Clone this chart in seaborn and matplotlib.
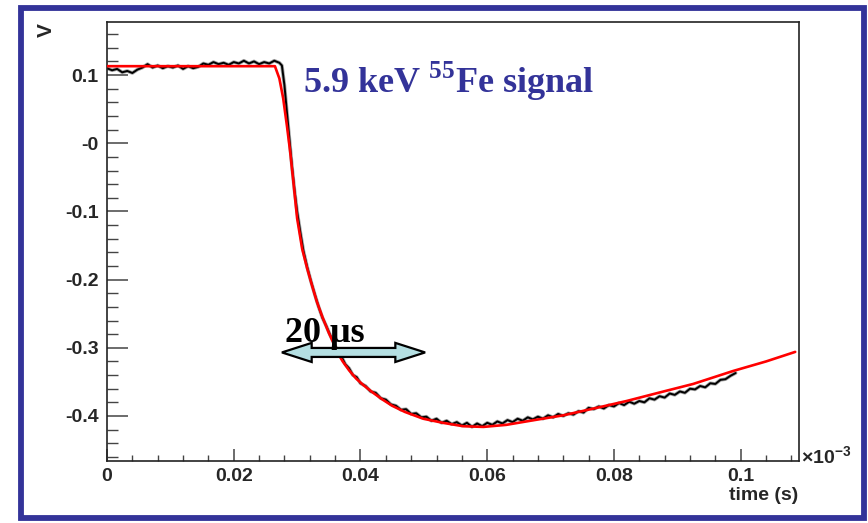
import matplotlib
matplotlib.use('Agg')
import matplotlib.pyplot as plt
import matplotlib.patches as mpatches
from matplotlib.ticker import MultipleLocator, FixedLocator, FixedFormatter
import seaborn as sns
import pandas as pd

sns.set_style('ticks')
plt.rcParams['font.family'] = ['Liberation Sans', 'DejaVu Sans']
plt.rcParams['mathtext.fontset'] = 'custom'
plt.rcParams['mathtext.rm'] = 'Liberation Serif:bold'
plt.rcParams['mathtext.bf'] = 'Liberation Serif:bold'
plt.rcParams['mathtext.sf'] = 'Liberation Sans:bold'

# -------------------------
# data (time in units of 1e-3 s, signal in V)
# -------------------------
fit_t = [0.0, 0.0265, 0.0272, 0.0278, 0.0284, 0.0289, 0.0294, 0.0300, 0.0308,
         0.0316, 0.0324, 0.0331, 0.0340, 0.0350, 0.0357, 0.0363, 0.0372, 0.0382,
         0.0393, 0.0405, 0.0420, 0.0435, 0.0450, 0.0470, 0.0499, 0.0530, 0.0562,
         0.0594, 0.0630, 0.0668, 0.0720, 0.0773, 0.0820, 0.0870, 0.0925, 0.0988,
         0.1040, 0.1086]
fit_v = [0.113, 0.113, 0.095, 0.066, 0.025, -0.012, -0.055, -0.110, -0.155,
         -0.184, -0.210, -0.232, -0.255, -0.278, -0.292, -0.306, -0.320, -0.333,
         -0.345, -0.355, -0.366, -0.376, -0.385, -0.394, -0.404, -0.410, -0.415,
         -0.416, -0.413, -0.407, -0.399, -0.388, -0.378, -0.366, -0.353, -0.334,
         -0.320, -0.306]

sig_t = [0.0, 0.0008, 0.0016, 0.0024, 0.0032, 0.0040, 0.0048, 0.0056, 0.0064,
         0.0072, 0.0080, 0.0088, 0.0096, 0.0104, 0.0112, 0.0120, 0.0128, 0.0136,
         0.0144, 0.0152, 0.0160, 0.0168, 0.0176, 0.0184, 0.0192, 0.0200, 0.0208,
         0.0216, 0.0224, 0.0232, 0.0240, 0.0248, 0.0256, 0.0264, 0.0272,
         0.0276, 0.0280, 0.0284, 0.0288, 0.0292, 0.0296, 0.0300, 0.0305, 0.0310,
         0.0316, 0.0322, 0.0328, 0.0334, 0.0340, 0.0346, 0.0352, 0.0358, 0.0364,
         0.0370, 0.0376, 0.0382, 0.0388, 0.0394, 0.0400, 0.0408, 0.0416, 0.0424,
         0.0432, 0.0440, 0.0448, 0.0456, 0.0464, 0.0472, 0.0480, 0.0488, 0.0496,
         0.0504, 0.0512, 0.0520, 0.0528, 0.0536, 0.0544, 0.0552, 0.0560, 0.0568,
         0.0576, 0.0584, 0.0592, 0.0600, 0.0608, 0.0616, 0.0624, 0.0632, 0.0640,
         0.0648, 0.0656, 0.0664, 0.0672, 0.0680, 0.0688, 0.0696, 0.0704, 0.0712,
         0.0720, 0.0728, 0.0736, 0.0744, 0.0752, 0.0760, 0.0768, 0.0776, 0.0784,
         0.0792, 0.0800, 0.0808, 0.0816, 0.0824, 0.0832, 0.0840, 0.0848, 0.0856,
         0.0864, 0.0872, 0.0880, 0.0888, 0.0896, 0.0904, 0.0912, 0.0920, 0.0928,
         0.0936, 0.0944, 0.0952, 0.0960, 0.0968, 0.0976, 0.0984, 0.0992]
sig_v = [0.110, 0.107, 0.109, 0.104, 0.106, 0.103, 0.108, 0.111, 0.116,
         0.111, 0.114, 0.110, 0.113, 0.111, 0.114, 0.109, 0.113, 0.110,
         0.112, 0.117, 0.115, 0.119, 0.116, 0.118, 0.115, 0.119, 0.117,
         0.121, 0.117, 0.120, 0.116, 0.119, 0.117, 0.121, 0.118,
         0.114, 0.085, 0.045, 0.005, -0.035, -0.070, -0.100, -0.130, -0.158,
         -0.182, -0.203, -0.222, -0.240, -0.256, -0.268, -0.281, -0.293, -0.305,
         -0.313, -0.324, -0.330, -0.340, -0.343, -0.352, -0.356, -0.364, -0.366,
         -0.374, -0.376, -0.383, -0.385, -0.391, -0.390, -0.397, -0.396, -0.402,
         -0.401, -0.407, -0.404, -0.410, -0.407, -0.412, -0.409, -0.414, -0.410,
         -0.416, -0.411, -0.415, -0.410, -0.413, -0.408, -0.411, -0.406, -0.409,
         -0.404, -0.407, -0.402, -0.405, -0.401, -0.404, -0.399, -0.402, -0.397,
         -0.400, -0.396, -0.398, -0.393, -0.395, -0.388, -0.390, -0.386, -0.389,
         -0.384, -0.386, -0.381, -0.384, -0.379, -0.382, -0.378, -0.380, -0.374,
         -0.376, -0.371, -0.373, -0.367, -0.369, -0.364, -0.366, -0.360, -0.361,
         -0.356, -0.358, -0.352, -0.353, -0.347, -0.346, -0.341, -0.337]

x_ticks = [0.0, 0.02, 0.04, 0.06, 0.08, 0.1]
x_labels = ['0', '0.02', '0.04', '0.06', '0.08', '0.1']
y_ticks = [0.1, 0.0, -0.1, -0.2, -0.3, -0.4]
y_labels = ['0.1', '-0', '-0.1', '-0.2', '-0.3', '-0.4']

sig = pd.DataFrame({'t': sig_t, 'v': sig_v})
fit = pd.DataFrame({'t': fit_t, 'v': fit_v})

# -------------------------
# figure
# -------------------------
W, H = 868, 523
fig = plt.figure(figsize=(W / 100, H / 100), dpi=100)
ax = fig.add_axes([107 / W, 1 - 461 / H, 692 / W, 439 / H])

# fuzzy scope trace: a soft wide stroke under a sharp one
sns.lineplot(data=sig, x='t', y='v', ax=ax, color='black', lw=2.6, alpha=0.35,
             sort=False, estimator=None, zorder=2)
sns.lineplot(data=sig, x='t', y='v', ax=ax, color='black', lw=1.4,
             sort=False, estimator=None, zorder=2)
sns.lineplot(data=fit, x='t', y='v', ax=ax, color='#ff0000', lw=1.9,
             sort=False, estimator=None, zorder=3)

ax.set_xlim(0, 0.1092)
ax.set_ylim(-0.466, 0.1778)
ax.set_xlabel('')
ax.set_ylabel('')

ax.xaxis.set_major_locator(FixedLocator(x_ticks))
ax.xaxis.set_major_formatter(FixedFormatter(x_labels))
ax.xaxis.set_minor_locator(MultipleLocator(0.004))
ax.yaxis.set_major_locator(FixedLocator(y_ticks))
ax.yaxis.set_major_formatter(FixedFormatter(y_labels))
ax.yaxis.set_minor_locator(MultipleLocator(0.02))

ax.tick_params(axis='x', which='major', direction='in', length=9, width=1.1,
               color='#444444', labelsize=14, pad=5)
ax.tick_params(axis='x', which='minor', direction='in', length=4.5, width=1.0,
               color='#444444')
ax.tick_params(axis='y', which='major', direction='in', length=15, width=1.1,
               color='#444444', labelsize=14, pad=6)
ax.tick_params(axis='y', which='minor', direction='in', length=8, width=1.0,
               color='#444444')
for lab in ax.get_xticklabels() + ax.get_yticklabels():
    lab.set_fontweight('bold')
for s in ax.spines.values():
    s.set_visible(True)
    s.set_color('#222222')
    s.set_linewidth(1.2)

# double arrow "20 us"
ax_x0, ax_x1, ay = 0.0276, 0.0502, -0.3068
shaft, head, hlen = 0.0066, 0.014, 0.0047
arrow_pts = [(ax_x0, ay), (ax_x0 + hlen, ay + head), (ax_x0 + hlen, ay + shaft),
             (ax_x1 - hlen, ay + shaft), (ax_x1 - hlen, ay + head), (ax_x1, ay),
             (ax_x1 - hlen, ay - head), (ax_x1 - hlen, ay - shaft),
             (ax_x0 + hlen, ay - shaft), (ax_x0 + hlen, ay - head)]
ax.add_patch(mpatches.Polygon(arrow_pts, closed=True, facecolor='#b4dfe2',
                              edgecolor='black', lw=1.6, zorder=4))

fig.text(285 / W, 1 - 342 / H, '20 \u03bcs', family='Liberation Serif',
         fontweight='bold', fontsize=26, color='black', va='baseline',
         ha='left', zorder=5)

fig.text(303 / W, 1 - 93 / H, '5.9 keV $^{55}$Fe signal', family='Liberation Serif',
         fontweight='bold', fontsize=26, color='#333399', va='baseline', ha='left')

# axis titles in ROOT style
fig.text(46 / W, 1 - 30 / H, 'V', rotation=90, fontweight='bold', fontsize=15,
         ha='center', va='center')
fig.text(798 / W, 1 - 495 / H, 'time (s)', fontweight='bold', fontsize=14,
         ha='right', va='center')
fig.text(801 / W, 1 - 456 / H, r'$\mathsf{\times 10^{-3}}$', fontsize=14,
         ha='left', va='center')

# blue slide frame
fig.patches.append(mpatches.Rectangle((21 / W, 5.5 / H), 842.5 / W, 510 / H,
                                      transform=fig.transFigure, fill=False,
                                      edgecolor='#333399', lw=4.2, zorder=10))

fig.savefig('out.png', dpi=100)
